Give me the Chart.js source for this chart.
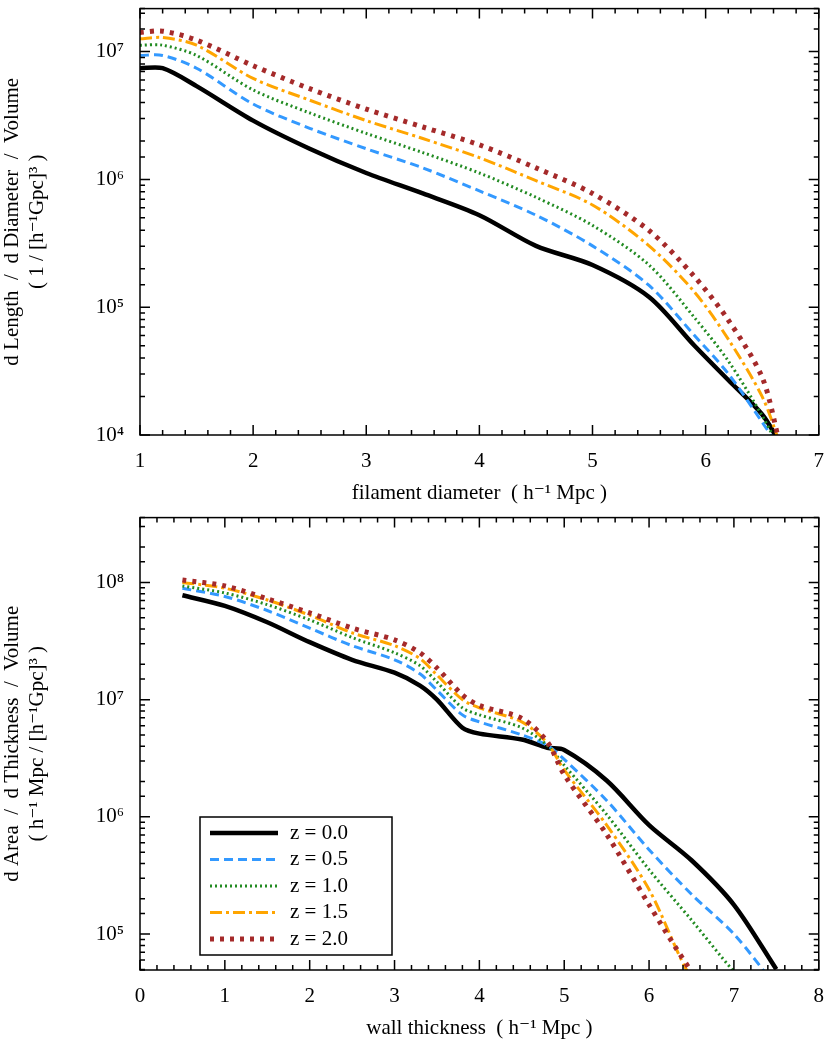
<!DOCTYPE html>
<html>
<head>
<meta charset="utf-8">
<script src="https://cdn.jsdelivr.net/npm/chart.js@4/dist/chart.umd.min.js"></script>
<style>
  body { margin: 0; background: #fff; overflow: hidden; }
  #top { position: absolute; left: 0; top: -12px; width: 830px; height: 518px; }
  #bot { position: absolute; left: 0; top: 497px; width: 830px; height: 544px; }
</style>
</head>
<body>
<div id="top"><canvas id="c1"></canvas></div>
<div id="bot"><canvas id="c2"></canvas></div>
<script>
// values are log10 of the density
const labels = ["z = 0.0", "z = 0.5", "z = 1.0", "z = 1.5", "z = 2.0"];

const filX = [1.0, 1.2, 1.5, 2.0, 2.5, 3.0, 3.5, 4.0, 4.5, 5.0, 5.5, 5.9, 6.2, 6.5, 6.65];
const fil0 = [6.87, 6.87, 6.73, 6.46, 6.24, 6.05, 5.89, 5.72, 5.48, 5.33, 5.08, 4.70, 4.43, 4.16, 3.95];
const fil05 = [6.97, 6.97, 6.87, 6.59, 6.40, 6.24, 6.09, 5.91, 5.72, 5.48, 5.17, 4.78, 4.48, 4.10, 3.90];
const fil1 = [7.05, 7.05, 6.97, 6.70, 6.52, 6.36, 6.21, 6.05, 5.86, 5.64, 5.33, 4.92, 4.58, 4.15, 3.90];
const fil15 = [7.10, 7.11, 7.05, 6.79, 6.62, 6.46, 6.32, 6.17, 5.99, 5.80, 5.48, 5.12, 4.75, 4.30, 3.95];
const fil2 = [7.15, 7.16, 7.09, 6.89, 6.71, 6.55, 6.41, 6.27, 6.09, 5.89, 5.60, 5.24, 4.90, 4.45, 3.95];

const wallX = [0.5, 1.0, 1.5, 2.0, 2.5, 3.0, 3.3, 3.5, 3.8, 4.0, 4.5, 4.8, 5.0, 5.5, 6.0, 6.5, 7.0, 7.5];
const wall0 = [7.89, 7.80, 7.66, 7.49, 7.34, 7.23, 7.12, 7.00, 6.76, 6.71, 6.66, 6.59, 6.57, 6.31, 5.93, 5.63, 5.25, 4.70];
const wall05 = [7.95, 7.88, 7.76, 7.61, 7.46, 7.34, 7.22, 7.08, 6.87, 6.81, 6.70, 6.61, 6.49, 6.14, 5.72, 5.34, 5.00, 4.55];
const wall1 = [7.97, 7.91, 7.81, 7.68, 7.53, 7.40, 7.29, 7.15, 6.93, 6.87, 6.76, 6.61, 6.44, 6.02, 5.55, 5.12, 4.68, 4.30];
const wall15 = [8.00, 7.95, 7.85, 7.72, 7.57, 7.46, 7.35, 7.21, 7.00, 6.93, 6.81, 6.63, 6.40, 5.93, 5.38, 4.62, 4.20, 4.00];
const wall2 = [8.02, 7.97, 7.86, 7.74, 7.61, 7.51, 7.40, 7.27, 7.04, 6.95, 6.84, 6.64, 6.36, 5.85, 5.25, 4.68, 4.20, 4.00];

const styles = [
  { color: "#000000", width: 4.5, dash: [] },
  { color: "#3399ff", width: 3, dash: [9, 5] },
  { color: "#228b22", width: 3, dash: [2, 3] },
  { color: "#ffa500", width: 3, dash: [12, 4, 3, 4] },
  { color: "#a52a2a", width: 5, dash: [4, 6] },
];

const font = { family: "'Liberation Serif', 'DejaVu Serif', serif", size: 21 };
const sup = { "0": "⁰", "1": "¹", "2": "²", "3": "³", "4": "⁴", "5": "⁵", "6": "⁶", "7": "⁷", "8": "⁸", "9": "⁹" };

function makeSets(xs, series) {
  return series.map((s, i) => ({
    label: labels[i],
    data: xs.map((x, j) => ({ x: x, y: Math.pow(10, s[j]) })),
    borderColor: styles[i].color,
    borderWidth: styles[i].width,
    borderDash: styles[i].dash,
    pointRadius: 0,
    tension: 0.3,
    fill: false,
  })).reverse();
}

// frame and inward tick marks on all four sides
const frame = {
  id: "frame",
  afterDraw(chart, args, opts) {
    const ctx = chart.ctx, a = chart.chartArea;
    const xs = chart.scales.x, ys = chart.scales.y;
    ctx.save();
    ctx.strokeStyle = "#000";
    ctx.lineWidth = 1.5;
    ctx.setLineDash([]);
    ctx.strokeRect(a.left, a.top, a.right - a.left, a.bottom - a.top);
    ctx.beginPath();
    for (let v = xs.min; v <= xs.max + 1e-9; v += opts.xMinor) {
      const px = xs.getPixelForValue(v);
      const major = Math.abs(v - Math.round(v)) < 1e-6;
      const len = major ? 10 : 5;
      ctx.moveTo(px, a.bottom); ctx.lineTo(px, a.bottom - len);
      ctx.moveTo(px, a.top); ctx.lineTo(px, a.top + len);
    }
    ys.ticks.forEach((t) => {
      const py = ys.getPixelForValue(t.value);
      if (py < a.top - 0.5 || py > a.bottom + 0.5) return;
      const e = Math.log10(t.value);
      const len = Math.abs(e - Math.round(e)) < 1e-6 ? 10 : 5;
      ctx.moveTo(a.left, py); ctx.lineTo(a.left + len, py);
      ctx.moveTo(a.right, py); ctx.lineTo(a.right - len, py);
    });
    ctx.stroke();

    if (opts.legend) {
      const L = opts.legend;
      ctx.fillStyle = "#fff";
      ctx.fillRect(L.x, L.y, L.w, L.h);
      ctx.strokeRect(L.x, L.y, L.w, L.h);
      ctx.font = "21px 'Liberation Serif', serif";
      ctx.textBaseline = "middle";
      labels.forEach((lab, i) => {
        const yy = L.y + 16 + i * 26.5;
        ctx.strokeStyle = styles[i].color;
        ctx.lineWidth = styles[i].width;
        ctx.setLineDash(styles[i].dash);
        ctx.beginPath();
        ctx.moveTo(L.x + 10, yy); ctx.lineTo(L.x + 78, yy);
        ctx.stroke();
        ctx.fillStyle = "#000";
        ctx.fillText(lab, L.x + 90, yy);
      });
    }
    ctx.restore();
  },
};

function logTicks(v) {
  const e = Math.log10(v);
  if (Math.abs(e - Math.round(e)) > 1e-6) return "";
  return "10" + String(Math.round(e)).split("").map((c) => sup[c]).join("");
}

function makeChart(id, sets, xMin, xMax, yMin, yMax, padTop, xHeight, xTitle, yTitle, legend) {
  return new Chart(document.getElementById(id), {
    type: "line",
    data: { datasets: sets },
    plugins: [frame],
    options: {
      responsive: true,
      maintainAspectRatio: false,
      animation: false,
      layout: { padding: { top: padTop, right: 8, left: 0, bottom: 0 } },
      plugins: {
        legend: { display: false },
        tooltip: { enabled: false },
        frame: { xMinor: 0.2, legend: legend },
      },
      scales: {
        x: {
          type: "linear",
          min: xMin,
          max: xMax,
          grid: { display: false },
          border: { display: false },
          ticks: { stepSize: 1, color: "#000", font: font, padding: 6 },
          title: { display: true, text: xTitle, color: "#000", font: font, padding: 0 },
          afterFit: (s) => { s.height = xHeight; },
        },
        y: {
          type: "logarithmic",
          min: yMin,
          max: yMax,
          grid: { display: false },
          border: { display: false },
          ticks: { color: "#000", font: font, callback: logTicks, autoSkip: false, padding: 8 },
          title: { display: true, text: yTitle, color: "#000", font: font, padding: 0 },
          afterFit: (s) => { s.width = 140; },
        },
      },
    },
  });
}

makeChart("c1", makeSets(filX, [fil0, fil05, fil1, fil15, fil2]), 1, 7, 1e4, 2.17e7, 8, 71,
  "filament diameter  ( h⁻¹ Mpc )",
  ["d Length  /  d Diameter  /  Volume", "( 1 / [h⁻¹Gpc]³ )"]);

makeChart("c2", makeSets(wallX, [wall0, wall05, wall1, wall15, wall2]), 0, 8, 4.94e4, 3.57e8, 17, 71,
  "wall thickness  ( h⁻¹ Mpc )",
  ["d Area  /  d Thickness  /  Volume", "( h⁻¹ Mpc / [h⁻¹Gpc]³ )"],
  { x: 200, y: 320, w: 192, h: 138 });
</script>
</body>
</html>
